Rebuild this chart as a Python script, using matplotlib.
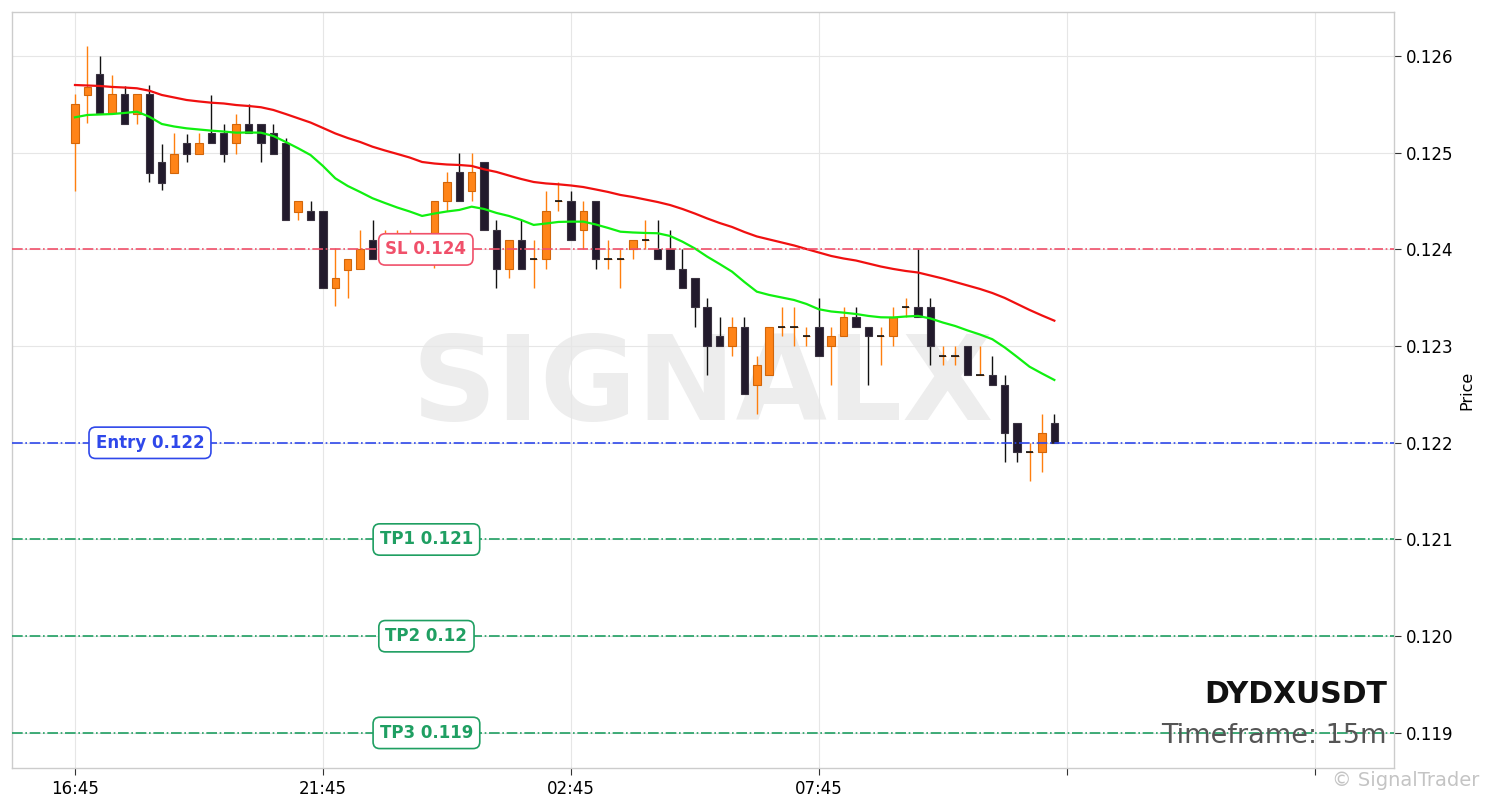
import matplotlib
matplotlib.use('Agg')
import matplotlib.pyplot as plt
import numpy as np

symbol = "DYDXUSDT"
timeframe = "15m"
tick_labels = ['16:45', '21:45', '02:45', '07:45', '', '']

opens = [0.12510, 0.12560, 0.12581, 0.12541, 0.12561, 0.12540, 0.12561, 0.12490, 0.12479, 0.12510,
         0.12499, 0.12520, 0.12520, 0.12510, 0.12530, 0.12530, 0.12520, 0.12510, 0.12439, 0.12440,
         0.12440, 0.12360, 0.12379, 0.12380, 0.12410, 0.12400, 0.12400, 0.12400, 0.12400, 0.12400,
         0.12450, 0.12480, 0.12460, 0.12490, 0.12420, 0.12380, 0.12410, 0.12390, 0.12390, 0.12450,
         0.12450, 0.12420, 0.12450, 0.12390, 0.12390, 0.12400, 0.12410, 0.12400, 0.12400, 0.12380,
         0.12370, 0.12340, 0.12310, 0.12300, 0.12320, 0.12260, 0.12270, 0.12320, 0.12320, 0.12310,
         0.12320, 0.12300, 0.12310, 0.12330, 0.12320, 0.12310, 0.12310, 0.12340, 0.12340, 0.12340,
         0.12290, 0.12290, 0.12300, 0.12270, 0.12270, 0.12260, 0.12220, 0.12190, 0.12190, 0.12220]
highs = [0.12561, 0.12610, 0.12600, 0.12580, 0.12569, 0.12561, 0.12570, 0.12509, 0.12520, 0.12519,
         0.12520, 0.12560, 0.12530, 0.12540, 0.12550, 0.12530, 0.12530, 0.12515, 0.12450, 0.12450,
         0.12440, 0.12401, 0.12390, 0.12420, 0.12430, 0.12420, 0.12420, 0.12420, 0.12410, 0.12450,
         0.12480, 0.12500, 0.12500, 0.12490, 0.12430, 0.12410, 0.12430, 0.12410, 0.12460, 0.12470,
         0.12460, 0.12450, 0.12450, 0.12410, 0.12400, 0.12410, 0.12430, 0.12430, 0.12420, 0.12400,
         0.12370, 0.12350, 0.12330, 0.12330, 0.12330, 0.12290, 0.12320, 0.12340, 0.12340, 0.12320,
         0.12350, 0.12320, 0.12340, 0.12340, 0.12320, 0.12320, 0.12340, 0.12350, 0.12400, 0.12350,
         0.12300, 0.12300, 0.12300, 0.12300, 0.12290, 0.12270, 0.12220, 0.12200, 0.12230, 0.12230]
lows = [0.12460, 0.12531, 0.12541, 0.12541, 0.12530, 0.12530, 0.12470, 0.12461, 0.12479, 0.12490,
        0.12499, 0.12510, 0.12490, 0.12499, 0.12520, 0.12490, 0.12499, 0.12430, 0.12430, 0.12430,
        0.12360, 0.12341, 0.12350, 0.12380, 0.12390, 0.12390, 0.12390, 0.12390, 0.12390, 0.12381,
        0.12440, 0.12450, 0.12450, 0.12420, 0.12360, 0.12370, 0.12380, 0.12360, 0.12380, 0.12440,
        0.12410, 0.12400, 0.12380, 0.12380, 0.12360, 0.12390, 0.12400, 0.12390, 0.12380, 0.12360,
        0.12320, 0.12270, 0.12300, 0.12290, 0.12250, 0.12230, 0.12270, 0.12310, 0.12300, 0.12300,
        0.12290, 0.12260, 0.12310, 0.12320, 0.12260, 0.12280, 0.12300, 0.12330, 0.12330, 0.12280,
        0.12280, 0.12280, 0.12270, 0.12270, 0.12260, 0.12180, 0.12180, 0.12160, 0.12170, 0.12200]
closes = [0.12550, 0.12568, 0.12541, 0.12561, 0.12530, 0.12561, 0.12479, 0.12469, 0.12499, 0.12499,
          0.12510, 0.12510, 0.12499, 0.12530, 0.12520, 0.12510, 0.12499, 0.12430, 0.12450, 0.12430,
          0.12360, 0.12370, 0.12390, 0.12400, 0.12390, 0.12400, 0.12400, 0.12400, 0.12400, 0.12450,
          0.12470, 0.12450, 0.12480, 0.12420, 0.12380, 0.12410, 0.12380, 0.12390, 0.12440, 0.12450,
          0.12410, 0.12440, 0.12390, 0.12390, 0.12390, 0.12410, 0.12410, 0.12390, 0.12380, 0.12360,
          0.12340, 0.12300, 0.12300, 0.12320, 0.12250, 0.12280, 0.12320, 0.12320, 0.12320, 0.12310,
          0.12290, 0.12310, 0.12330, 0.12320, 0.12310, 0.12310, 0.12330, 0.12340, 0.12330, 0.12300,
          0.12290, 0.12290, 0.12270, 0.12270, 0.12260, 0.12210, 0.12190, 0.12190, 0.12210, 0.12200]

ma_slow = [0.125700, 0.125695, 0.125690, 0.125680, 0.125674, 0.125666, 0.125641, 0.125597, 0.125571, 0.125545,
           0.125530, 0.125517, 0.125509, 0.125493, 0.125483, 0.125470, 0.125442, 0.125400, 0.125356, 0.125312,
           0.125256, 0.125199, 0.125152, 0.125111, 0.125062, 0.125023, 0.124987, 0.124950, 0.124904, 0.124888,
           0.124878, 0.124873, 0.124863, 0.124828, 0.124801, 0.124764, 0.124728, 0.124697, 0.124682, 0.124673,
           0.124661, 0.124645, 0.124620, 0.124594, 0.124563, 0.124542, 0.124516, 0.124490, 0.124459, 0.124418,
           0.124371, 0.124320, 0.124273, 0.124232, 0.124180, 0.124134, 0.124103, 0.124072, 0.124041, 0.124004,
           0.123968, 0.123932, 0.123906, 0.123885, 0.123854, 0.123823, 0.123798, 0.123777, 0.123761, 0.123730,
           0.123699, 0.123663, 0.123627, 0.123591, 0.123549, 0.123498, 0.123436, 0.123374, 0.123317, 0.123263]
ma_fast = [0.125366, 0.125390, 0.125395, 0.125400, 0.125411, 0.125424, 0.125372, 0.125297, 0.125271, 0.125252,
           0.125240, 0.125228, 0.125219, 0.125207, 0.125209, 0.125207, 0.125173, 0.125111, 0.125046, 0.124976,
           0.124863, 0.124735, 0.124656, 0.124594, 0.124529, 0.124480, 0.124433, 0.124392, 0.124346, 0.124371,
           0.124392, 0.124408, 0.124442, 0.124418, 0.124377, 0.124346, 0.124304, 0.124253, 0.124268, 0.124284,
           0.124287, 0.124287, 0.124258, 0.124222, 0.124183, 0.124175, 0.124170, 0.124167, 0.124139, 0.124080,
           0.124010, 0.123925, 0.123849, 0.123770, 0.123663, 0.123563, 0.123529, 0.123503, 0.123477, 0.123436,
           0.123381, 0.123358, 0.123346, 0.123332, 0.123312, 0.123298, 0.123296, 0.123306, 0.123312, 0.123286,
           0.123244, 0.123208, 0.123162, 0.123120, 0.123071, 0.122986, 0.122888, 0.122787, 0.122717, 0.122650]

level_names = ['SL', 'Entry', 'TP1', 'TP2', 'TP3']
level_values = [0.124, 0.122, 0.121, 0.120, 0.119]
level_texts = ['SL 0.124', 'Entry 0.122', 'TP1 0.121', 'TP2 0.12', 'TP3 0.119']
level_colors = ['#f0506a', '#2f48ea', '#1f9f62', '#1f9f62', '#1f9f62']
level_label_x = [28.3, 6.05, 28.35, 28.35, 28.35]

n = len(opens)
idx = np.arange(n)
o = np.array(opens); h = np.array(highs); l = np.array(lows); c = np.array(closes)
up = c >= o

fig = plt.figure(figsize=(14.9, 8.08), dpi=100)
ax = fig.add_axes([12/1490, 40/808, 1382/1490, 756/808])
ax.set_facecolor('white')

# watermark
ax.text(0.5, 0.46, 'SIGNALX', transform=ax.transAxes, ha='center', va='baseline',
        fontsize=85, fontweight='bold', color='#ededed', zorder=0.5)

# grid
ax.grid(True, color='#e6e6e6', linewidth=0.8, zorder=0)
ax.set_axisbelow(True)

up_body = '#ff8418'
up_edge = '#d2660a'
dn_body = '#221a2c'
dn_edge = '#3a3340'

# wicks
ax.vlines(idx[up], l[up], h[up], color='#ff7f0e', linewidth=1.0, zorder=2)
ax.vlines(idx[~up], l[~up], h[~up], color='#111111', linewidth=1.0, zorder=2)
# bodies
bw = 0.6
ax.bar(idx[up], c[up] - o[up], bottom=o[up], width=bw, color=up_body,
       edgecolor=up_edge, linewidth=0.8, zorder=3)
ax.bar(idx[~up], c[~up] - o[~up], bottom=o[~up], width=bw, color=dn_body,
       edgecolor=dn_edge, linewidth=0.8, zorder=3)
# doji marks
doji = np.isclose(o, c)
ax.hlines(o[doji], idx[doji] - bw / 2, idx[doji] + bw / 2, color='#111111', linewidth=1.2, zorder=3)

# moving averages
ax.plot(idx, ma_slow, color='#f01010', linewidth=1.6, zorder=4)
ax.plot(idx, ma_fast, color='#10f010', linewidth=1.6, zorder=4)

# levels
for val, txt, col, lx in zip(level_values, level_texts, level_colors, level_label_x):
    ax.axhline(val, color=col, linestyle='-.', linewidth=1.2, zorder=4)
    ax.text(lx, val, txt, color=col, fontsize=12, fontweight='bold', ha='center', va='center',
            zorder=6, bbox=dict(boxstyle='round,pad=0.4', fc='white', ec=col, lw=1.2))

ax.set_xlim(-5.08, 106.4)
ax.set_ylim(0.118637, 0.126455)

ax.set_xticks(np.arange(0, 101, 20))
ax.set_xticklabels(tick_labels, fontsize=12)
yt = [0.119, 0.120, 0.121, 0.122, 0.123, 0.124, 0.125, 0.126]
ax.set_yticks(yt)
ax.set_yticklabels([f'{v:.3f}' for v in yt], fontsize=12)
ax.yaxis.tick_right()
ax.yaxis.set_label_position('right')
ax.set_ylabel('Price', fontsize=11.5)
ax.tick_params(axis='both', length=5, color='#333333')

for sp in ax.spines.values():
    sp.set_color('#cccccc')
    sp.set_linewidth(1.0)

ax.text(0.995, 0.086, symbol, transform=ax.transAxes, ha='right', va='baseline',
        fontsize=21.5, fontweight='bold', color='#111111', zorder=7)
ax.text(0.995, 0.033, f'Timeframe: {timeframe}', transform=ax.transAxes, ha='right', va='baseline',
        fontsize=19.5, color='#555555', zorder=7)

fig.text(0.993, 0.022, '© SignalTrader', ha='right', va='bottom', fontsize=14, color='#c4c4c4')

fig.savefig('out.png', dpi=100, facecolor='white')
